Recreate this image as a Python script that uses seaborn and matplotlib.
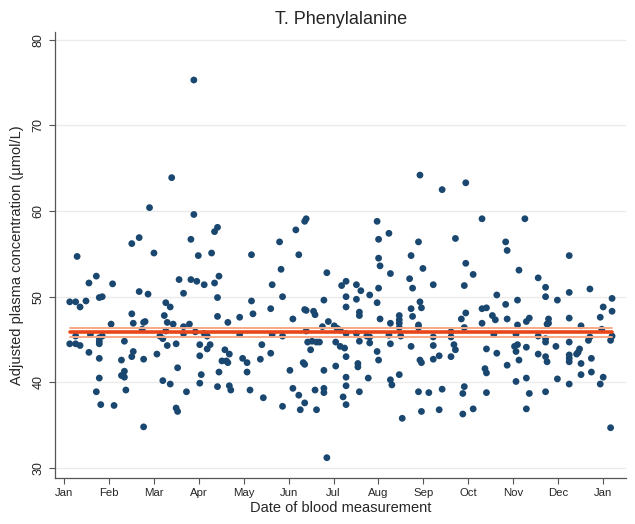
import numpy as np
import pandas as pd
import matplotlib
matplotlib.use("Agg")
import matplotlib.pyplot as plt
import seaborn as sns

# day of year (0 = 1 Jan) and adjusted concentration
day = [58, 46, 51, 61, 9, 22, 17, 33, 51, 57, 4, 8, 15, 11, 24, 26, 46, 32, 47, 54,
       55, 53, 18, 8, 4, 8, 11, 24, 26, 24, 24, 41, 17, 24, 39, 47, 46, 54, 63, 41,
       40, 41, 39, 24, 22, 42, 25, 34, 54,
       88, 73, 88, 104, 102, 86, 91, 100, 127, 78, 86, 90, 95, 102, 105, 81, 104, 127, 69, 72,
       68, 104, 128, 119, 70, 74, 111, 81, 85, 65, 67, 69, 81, 89, 95, 97, 119, 70, 76, 92,
       99, 97, 109, 112, 92, 107, 110, 111, 121, 124, 77, 105, 124, 93, 67, 72, 92, 104, 112, 113,
       126, 83, 76, 77,
       164, 163, 157, 146, 159, 147, 178, 188, 191, 141, 148, 191, 176, 140, 163, 164, 169, 170, 191, 155,
       179, 175, 183, 185, 187, 164, 141, 148, 191, 165, 168, 171, 173, 134, 167, 184, 187, 190, 191, 133,
       140, 162, 163, 153, 176, 184, 191, 191, 155, 170, 176, 176, 135, 159, 189, 191, 148, 163, 160, 171,
       178,
       241, 256, 212, 220, 213, 240, 235, 213, 214, 243, 221, 234, 198, 201, 236, 250, 213, 207, 198, 212,
       241, 242, 200, 200, 235, 236, 214, 227, 227, 227, 221, 240, 240, 227, 198, 205, 207, 220, 228, 250,
       200, 207, 221, 235, 250, 212, 254, 250, 213, 241, 242, 199, 199, 227, 206, 221, 222, 256, 200, 240,
       247, 242, 254, 229,
       272, 283, 312, 265, 299, 300, 272, 277, 308, 321, 271, 293, 299, 307, 283, 286, 272, 269, 290, 292,
       300, 283, 307, 313, 315, 271, 262, 262, 291, 306, 321, 264, 265, 286, 293, 305, 307, 306, 313, 321,
       262, 308, 300, 285, 286, 313, 306, 271, 270, 286, 315, 277, 270, 313,
       342, 326, 326, 342, 334, 356, 371, 365, 371, 328, 328, 327, 342, 350, 363, 364, 326, 326, 342, 355,
       356, 371, 370, 333, 349, 347, 348, 326, 327, 342, 342, 342, 357, 350, 334, 350, 357, 365, 363, 342,
       326, 370]

conc = [60.4, 56.2, 56.9, 55.1, 54.7, 52.4, 51.6, 51.5, 50.6, 50.3, 49.4, 49.4, 49.5, 48.8, 49.9, 50.0, 48.0, 46.8, 46.9, 47.0,
        47.1, 46.2, 45.6, 45.4, 44.5, 44.5, 44.3, 45.2, 45.4, 44.8, 44.5, 44.8, 43.5, 42.8, 42.6, 43.6, 43.0, 42.7, 43.3, 41.3,
        40.8, 40.6, 40.8, 40.5, 38.9, 39.1, 37.4, 37.3, 34.8,
        75.3, 63.9, 59.6, 58.1, 57.6, 56.7, 54.8, 55.1, 54.9, 52.0, 52.0, 51.8, 51.4, 51.6, 52.4, 50.4, 49.9, 49.5, 49.3, 48.8,
        47.8, 47.7, 48.0, 47.6, 47.0, 46.8, 47.0, 46.5, 46.8, 45.4, 45.1, 46.0, 45.7, 45.9, 45.7, 45.4, 45.6, 44.3, 44.5, 44.4,
        44.4, 43.9, 43.8, 43.3, 43.1, 42.5, 42.5, 42.3, 42.8, 42.3, 41.7, 41.2, 41.2, 40.9, 40.2, 39.8, 39.9, 39.5, 39.6, 39.1,
        39.1, 38.9, 37.0, 36.6,
        59.1, 58.8, 57.8, 56.4, 54.9, 53.2, 52.8, 51.3, 51.8, 51.4, 50.0, 50.0, 49.6, 48.6, 48.5, 48.4, 48.3, 47.9, 48.8, 47.4,
        47.1, 46.5, 46.6, 46.3, 46.1, 46.0, 45.6, 45.4, 45.7, 44.7, 44.8, 44.7, 44.7, 44.4, 43.8, 44.7, 44.2, 44.0, 43.0, 42.7,
        43.4, 42.3, 42.1, 41.4, 41.4, 41.9, 40.6, 39.6, 39.3, 39.1, 39.3, 38.8, 38.2, 38.5, 38.3, 37.4, 37.2, 37.6, 36.8, 36.8,
        31.2,
        64.2, 62.5, 58.8, 57.4, 56.7, 56.4, 54.8, 54.5, 53.6, 53.3, 52.7, 52.1, 51.4, 50.7, 51.0, 51.4, 51.0, 50.2, 49.7, 49.3,
        49.4, 48.7, 48.2, 47.8, 48.6, 47.7, 47.4, 47.8, 47.3, 46.9, 46.9, 46.7, 46.4, 46.4, 45.7, 45.4, 45.3, 45.5, 45.4, 45.3,
        44.8, 44.6, 44.5, 44.2, 44.3, 43.6, 43.1, 42.7, 42.6, 42.6, 42.3, 42.2, 41.8, 40.9, 40.5, 40.3, 39.7, 39.2, 38.9, 38.9,
        38.8, 36.6, 36.8, 35.8,
        63.3, 59.1, 59.1, 56.8, 56.4, 55.4, 53.9, 52.6, 53.1, 52.2, 51.3, 50.2, 49.1, 49.6, 48.6, 48.7, 48.1, 47.4, 47.8, 47.3,
        47.4, 46.9, 46.7, 47.1, 47.5, 46.4, 45.9, 45.3, 45.6, 45.6, 45.4, 44.4, 43.8, 43.9, 43.4, 44.2, 44.4, 43.6, 44.1, 43.3,
        43.0, 42.6, 42.0, 41.6, 41.1, 40.5, 40.1, 39.5, 38.7, 38.8, 38.7, 36.9, 36.3, 36.9,
        54.8, 51.1, 50.0, 50.5, 49.6, 50.9, 49.8, 48.8, 48.3, 47.4, 46.9, 46.8, 47.5, 46.6, 47.6, 46.2, 45.1, 44.7, 44.7, 44.9,
        45.3, 45.4, 44.9, 44.2, 43.9, 43.3, 43.5, 43.0, 42.4, 42.8, 42.4, 43.2, 42.8, 42.2, 40.4, 40.9, 41.2, 40.6, 39.8, 39.8,
        38.9, 34.7]

# fitted mean and its confidence band
fit_mean = 45.87
ci_low = 45.33
ci_high = 46.35

months = ["Jan", "Feb", "Mar", "Apr", "May", "Jun", "Jul", "Aug", "Sep", "Oct", "Nov", "Dec", "Jan"]
yticks = [30, 40, 50, 60, 70, 80]

df = pd.DataFrame({"day": day, "conc": conc})

sns.set_style("white")
plt.rcParams["font.family"] = ["Liberation Sans", "DejaVu Sans"]

fig = plt.figure(figsize=(6.35, 5.24), dpi=100)
ax = fig.add_axes([0.087, 0.0878, 0.899, 0.851])

for y in yticks:
    ax.axhline(y, color="#ebebeb", lw=1.0, zorder=0)

sns.scatterplot(data=df, x="day", y="conc", ax=ax, color="#1a476f", s=24,
                edgecolor="none", zorder=2)

# fit line with its ci band drawn over the points
x0, x1 = df["day"].min(), df["day"].max()
ax.plot([x0, x1], [ci_high, ci_high], color="#f7a985", lw=1.4, zorder=3)
ax.plot([x0, x1], [ci_low, ci_low], color="#f7a985", lw=1.4, zorder=3)
ax.plot([x0, x1], [fit_mean, fit_mean], color="#e8461a", lw=2.6, zorder=4)

ax.set_xlim(-5.8, 380.5)
ax.set_ylim(28.83, 80.9)
ax.set_xticks(np.arange(13) * 365 / 12)
ax.set_xticklabels(months, fontsize=8.2)
ax.set_yticks(yticks)
ax.set_yticklabels([str(v) for v in yticks], fontsize=9, rotation=90, va="center")
ax.tick_params(axis="both", direction="out", length=4.5, width=0.8, color="#555555",
               bottom=True, left=True, pad=3)

for side in ["top", "right"]:
    ax.spines[side].set_visible(False)
for side in ["left", "bottom"]:
    ax.spines[side].set_color("#555555")
    ax.spines[side].set_linewidth(0.9)

ax.set_title("T. Phenylalanine", fontsize=13, pad=6)
ax.set_xlabel("Date of blood measurement", fontsize=10.5, labelpad=2)
ax.set_ylabel("Adjusted plasma concentration (\u00b5mol/L)", fontsize=10.5, labelpad=6)

fig.savefig("out.png", dpi=100)
